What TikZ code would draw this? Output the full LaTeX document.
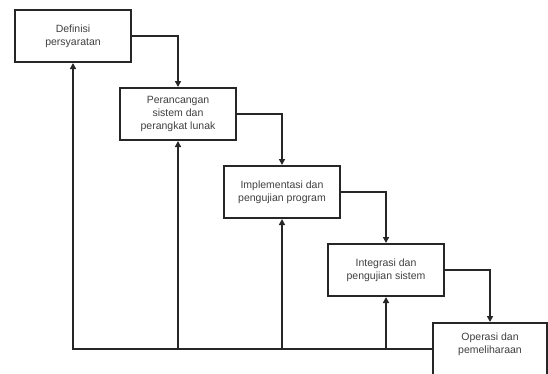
\documentclass[tikz,border=0pt]{standalone}
\usepackage{fontspec}
\setmainfont{Liberation Sans}
\usetikzlibrary{arrows.meta}
\begin{document}
\begin{tikzpicture}[x=1pt,y=1pt,
  stage/.style={draw=black!85,line width=2pt,fill=white,minimum width=116pt,minimum height=52pt,
    align=center,inner sep=2pt,font=\fontsize{10.5}{13}\selectfont,text=black!75},
  flow/.style={draw=black!85,line width=2pt,-{Triangle[length=6pt,width=6pt]}}]
\useasboundingbox (0,0) rectangle (548,-373);
\node[stage] (b1) at (73,-36) {Definisi\\persyaratan};
\node[stage] (b2) at (178,-114) {Perancangan\\sistem dan\\perangkat lunak};
\node[stage] (b3) at (282,-192) {Implementasi dan\\pengujian program};
\node[stage] (b4) at (386,-270) {Integrasi dan\\pengujian sistem};
\node[stage,minimum width=114pt,minimum height=60pt] (b5) at (490,-353) {Operasi dan\\pemeliharaan\\[6pt]\mbox{}};
\coordinate (fb) at ([yshift=4pt]b5.west);
\draw[flow] (b1.east) -| (b2.north);
\draw[flow] (b2.east) -| (b3.north);
\draw[flow] (b3.east) -| (b4.north);
\draw[flow] (b4.east) -| (b5.north);
\draw[flow] (fb) -| (b1.south);
\draw[flow] (b2.south |- fb) -- (b2.south);
\draw[flow] (b3.south |- fb) -- (b3.south);
\draw[flow] (b4.south |- fb) -- (b4.south);
\end{tikzpicture}
\end{document}
